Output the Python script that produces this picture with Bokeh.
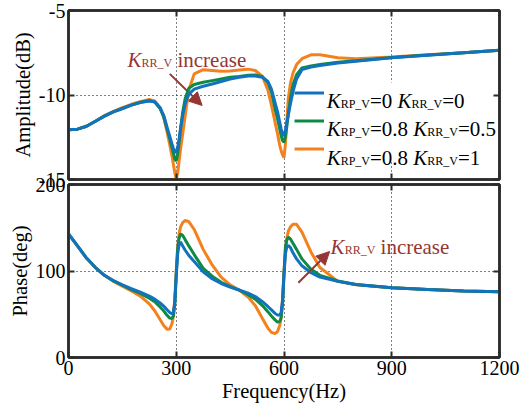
from bokeh.plotting import figure
from bokeh.layouts import column
from bokeh.models import (Range1d, FixedTicker, LinearAxis, Label, Arrow, NormalHead,
                          Legend, LegendItem, BoxAnnotation)
from bokeh.embed import file_html
from bokeh.resources import INLINE

# ---------------- data ----------------
freq = [0, 25, 50, 75, 100, 125, 150, 175, 200, 225, 240, 255, 265, 275, 282, 288, 292, 296,
        300, 304, 308, 312, 318, 325, 335, 350, 375, 400, 425, 450, 475, 500, 520, 540, 555,
        565, 575, 582, 588, 592, 596, 600, 604, 608, 612, 618, 625, 635, 650, 675, 700, 750,
        800, 900, 1000, 1100, 1200]

amp_rp0_rr0 = [-12.05, -12.02, -11.85, -11.55, -11.25, -11.0, -10.8, -10.6, -10.45, -10.35, -10.4,
               -10.75, -11.2, -11.95, -12.45, -12.9, -13.15, -13.35, -13.4, -13.1, -12.6, -12.0,
               -11.2, -10.5, -9.95, -9.65, -9.48, -9.35, -9.2, -9.05, -8.95, -8.88, -8.88, -8.95,
               -9.2, -9.65, -10.45, -11.0, -11.6, -12.0, -12.3, -12.42, -12.1, -11.6, -11.2, -10.5,
               -9.8, -9.05, -8.5, -8.35, -8.25, -8.1, -8.0, -7.8, -7.65, -7.5, -7.35]
amp_rp08_rr05 = [-12.05, -12.02, -11.85, -11.55, -11.25, -11.0, -10.8, -10.6, -10.43, -10.33, -10.42,
                 -10.8, -11.3, -12.05, -12.6, -13.1, -13.45, -13.8, -13.9, -13.5, -12.8, -12.0,
                 -11.0, -10.2, -9.6, -9.38, -9.25, -9.15, -9.05, -8.95, -8.9, -8.83, -8.82, -8.92,
                 -9.25, -9.8, -10.8, -11.4, -12.0, -12.4, -12.7, -12.8, -12.45, -11.85, -11.1, -10.2,
                 -9.4, -8.8, -8.4, -8.28, -8.2, -8.06, -7.97, -7.78, -7.64, -7.5, -7.35]
amp_rp08_rr1 = [-12.05, -12.02, -11.85, -11.55, -11.22, -10.97, -10.75, -10.55, -10.4, -10.27, -10.35,
                -10.75, -11.3, -12.25, -12.95, -13.6, -14.1, -14.6, -15.0, -14.6, -13.9, -13.2,
                -12.3, -11.2, -9.7, -8.75, -8.5, -8.55, -8.6, -8.58, -8.52, -8.47, -8.55, -8.9,
                -9.7, -10.6, -11.6, -12.3, -12.95, -13.3, -13.55, -13.7, -12.9, -11.5, -10.2, -9.3,
                -8.7, -8.2, -7.85, -7.62, -7.62, -7.8, -7.85, -7.75, -7.62, -7.5, -7.35]

ph_rp0_rr0 = [143, 129, 115, 104, 95, 89, 84, 79.5, 75.5, 71, 67.5, 63, 59.5, 55, 52, 50.5, 52, 64,
              95, 120, 131, 133.5, 129, 124, 118, 111, 99, 91, 85.5, 81.5, 78, 74.5, 70.5, 64.5, 59,
              55, 51, 49, 49, 52, 66, 96, 120, 128.5, 129.5, 127, 121, 114, 106, 98, 93, 88, 84.5,
              80.5, 78.5, 77, 76]
ph_rp08_rr05 = [143, 129, 115, 104, 95, 88.5, 83.5, 78.5, 74, 68.5, 64.5, 58.5, 54, 48.5, 45.5, 45, 48,
                62, 96, 126, 138, 143, 141, 136, 129, 119, 103, 94, 87, 82, 78, 72.5, 67.5, 60, 53,
                48, 43.5, 41, 41.5, 46, 62, 96, 128, 136, 139, 137, 132, 125, 114, 102, 95, 88.5,
                84.5, 80.5, 78.5, 77, 76]
ph_rp08_rr1 = [143, 129, 115, 104, 95, 88, 82.5, 77, 71, 62, 54, 44, 37, 32.5, 33, 39, 48, 68, 100,
               128, 143, 151, 156, 158.5, 157, 148, 125, 107, 93, 84, 78, 70, 60, 45, 34, 29, 27.5,
               30, 37, 46, 68, 100, 125, 138, 146, 151, 154, 154, 145, 122, 104, 88, 84, 80.5, 78.5,
               77, 76]

kp_labels = ["0", "0.8", "0.8"]
kr_labels = ["0", "0.5", "1"]
x_ticks = [0, 300, 600, 900, 1200]
amp_ticks = [-15, -10, -5]
ph_ticks = [0, 100, 200]

colors = ["#1172BE", "#0E8A45", "#F3821E"]
ann_color = "#943634"
frame_color = "#2b2b2b"
FONT = "Liberation Serif"
MAIN = 21
SUB = 12

# Times-metric advance widths (em) for positioning rich-text pieces
EM = {"K": 0.667, "R": 0.667, "P": 0.556, "_": 0.5, "V": 0.722, "=": 0.564, ".": 0.25, " ": 0.25,
      "i": 0.278, "n": 0.5, "c": 0.444, "r": 0.333, "e": 0.444, "a": 0.444, "s": 0.389}


def tw(s, size):
    return sum(EM.get(ch, 0.5) for ch in s) * size


def rich(p, x, y, pieces, color):
    """pieces: list of (text, kind) kind in {'it','sub','rm'}"""
    off = 0.0
    for txt, kind in pieces:
        size = SUB if kind == "sub" else MAIN
        stripped = txt.lstrip(" ")
        off += tw(txt[:len(txt) - len(stripped)], size)
        p.add_layout(Label(x=x, y=y, x_offset=off, y_offset=(-3 if kind == "sub" else 0),
                           text=stripped.rstrip(" "), text_font=FONT, text_font_size=f"{size}px",
                           text_font_style=("italic" if kind == "it" else "normal"),
                           text_color=color, text_baseline="alphabetic", text_align="left",
                           level="overlay"))
        off += tw(stripped, size)


def style_axis(ax, ticks, labels=True):
    ax.ticker = FixedTicker(ticks=ticks)
    ax.axis_line_color = frame_color
    ax.axis_line_width = 2.5
    ax.major_tick_in = 6
    ax.major_tick_out = 0
    ax.major_tick_line_color = frame_color
    ax.major_tick_line_width = 2
    ax.minor_tick_line_color = None
    ax.major_label_text_font = FONT
    ax.major_label_text_color = "black"
    if labels:
        ax.major_label_text_font_size = "20px"
        ax.major_label_overrides = {t: str(t) for t in ticks}
        ax.major_label_standoff = 3
    else:
        ax.major_label_text_font_size = "0px"
        ax.major_label_overrides = {t: "" for t in ticks}
        ax.major_label_standoff = 0


def make_fig(height, btop, bbot, yr, yticks, ylabel, xlabel):
    p = figure(width=527, height=height, x_range=Range1d(0, 1200), y_range=Range1d(*yr),
               output_backend="svg", toolbar_location=None,
               min_border_left=68, min_border_right=28, min_border_top=btop,
               min_border_bottom=bbot, background_fill_color="white",
               border_fill_color="white", border_fill_alpha=0.0,
               outline_line_color=frame_color, outline_line_width=2.5)
    xb = p.below[0]
    yl = p.left[0]
    style_axis(xb, x_ticks, labels=xlabel is not None)
    style_axis(yl, yticks, labels=True)
    for side, tks in (("above", x_ticks), ("right", yticks)):
        ax = LinearAxis()
        style_axis(ax, tks, labels=False)
        p.add_layout(ax, side)
    yl.axis_label = ylabel
    axes = [yl]
    if xlabel is not None:
        xb.axis_label = xlabel
        axes.append(xb)
    for ax in axes:
        ax.axis_label_text_font = FONT
        ax.axis_label_text_font_size = "20.5px"
        ax.axis_label_text_font_style = "normal"
        ax.axis_label_text_color = "black"
        ax.axis_label_standoff = 2
    p.xgrid.ticker = FixedTicker(ticks=x_ticks)
    p.ygrid.ticker = FixedTicker(ticks=yticks)
    for g in (p.xgrid[0], p.ygrid[0]):
        g.grid_line_color = "black"
        g.grid_line_dash = "1 3"
        g.grid_line_width = 1
    return p


# ---------------- amplitude ----------------
p1 = make_fig(193, 10, 14, (-15, -5), amp_ticks, "Amplitude(dB)", None)

legend_bg = BoxAnnotation(left=627, right=1188, top=-9.26, bottom=-13.88, fill_color="white",
                          fill_alpha=1.0, line_color=None, level="underlay")
p1.add_layout(legend_bg)

amp_series = [amp_rp0_rr0, amp_rp08_rr05, amp_rp08_rr1]
rend = [None, None, None]
for i in (2, 1, 0):
    rend[i] = p1.line(freq, amp_series[i], line_color=colors[i], line_width=3)

arrow1 = Arrow(x_start=282, y_start=-8.75, x_end=372, y_end=-10.62, line_color=ann_color,
               line_width=2, end=NormalHead(size=13, line_color=ann_color, fill_color=ann_color),
               level="underlay")
p1.add_layout(arrow1)

legend = Legend(items=[LegendItem(label=" ", renderers=[rend[i]]) for i in range(3)],
                location=(226, 20), padding=0, margin=0, spacing=7, glyph_width=30,
                glyph_height=21, label_height=21, label_width=0, label_standoff=0,
                label_text_font_size="1px", border_line_color=None,
                background_fill_alpha=0.0)
p1.add_layout(legend, "center")

legend_baselines = [-10.33, -12.01, -13.7]
for i in range(3):
    rich(p1, 718.7, legend_baselines[i],
         [("K", "it"), ("RP_V", "sub"), ("=" + kp_labels[i] + " ", "rm"),
          ("K", "it"), ("RR_V", "sub"), ("=" + kr_labels[i], "rm")], "black")

rich(p1, 164.3, -7.9, [("K", "it"), ("RR_V", "sub"), (" increase", "rm")], ann_color)

# ---------------- phase ----------------
p2 = make_fig(238, 16, 49, (0, 200), ph_ticks, "Phase(deg)", "Frequency(Hz)")
p2.margin = (-25, 0, 0, 0)
ph_series = [ph_rp0_rr0, ph_rp08_rr05, ph_rp08_rr1]
for i in (2, 1, 0):
    p2.line(freq, ph_series[i], line_color=colors[i], line_width=3)

arrow2 = Arrow(x_start=640, y_start=86.4, x_end=727, y_end=122.5, line_color=ann_color,
               line_width=2, end=NormalHead(size=13, line_color=ann_color, fill_color=ann_color))
p2.add_layout(arrow2)
rich(p2, 729.8, 127.5, [("K", "it"), ("RR_V", "sub"), (" increase", "rm")], ann_color)

layout = column(p1, p2, spacing=0)
open("out.html", "w").write(file_html(layout, INLINE))
